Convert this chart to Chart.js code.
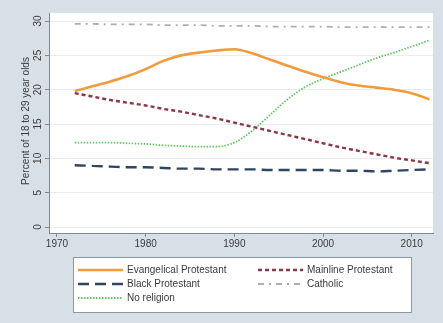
<!DOCTYPE html>
<html>
<head>
<meta charset="utf-8">
<script src="https://cdn.jsdelivr.net/npm/chart.js@4.4.1/dist/chart.umd.min.js"></script>
<style>
  html, body { margin: 0; padding: 0; background: #d7dfe7; }
  #wrap { width: 443px; height: 323px; }
</style>
</head>
<body>
<div id="wrap"><canvas id="chart" width="443" height="323"></canvas></div>
<script>
// data
const years = [1972, 1974, 1976, 1978, 1980, 1982, 1984, 1986, 1988, 1990, 1992,
               1994, 1996, 1998, 2000, 2002, 2004, 2006, 2008, 2010, 2012];
const evangelical = [19.8, 20.5, 21.2, 22.0, 23.0, 24.2, 25.0, 25.4, 25.7, 25.9, 25.3,
                     24.4, 23.5, 22.6, 21.8, 21.1, 20.6, 20.3, 20.0, 19.5, 18.6];
const mainline = [19.5, 19.0, 18.5, 18.1, 17.7, 17.2, 16.8, 16.3, 15.8, 15.2, 14.6,
                  14.0, 13.4, 12.8, 12.2, 11.6, 11.1, 10.6, 10.1, 9.7, 9.3];
const blackProt = [9.0, 8.9, 8.8, 8.7, 8.7, 8.6, 8.5, 8.5, 8.4, 8.4, 8.4,
                   8.3, 8.3, 8.3, 8.3, 8.2, 8.2, 8.1, 8.2, 8.3, 8.4];
const catholic = [29.6, 29.6, 29.5, 29.5, 29.5, 29.4, 29.4, 29.4, 29.3, 29.3, 29.3,
                  29.2, 29.2, 29.2, 29.2, 29.1, 29.1, 29.1, 29.1, 29.1, 29.1];
const noReligion = [12.3, 12.3, 12.3, 12.2, 12.1, 11.9, 11.8, 11.7, 11.7, 12.3, 14.0,
                    16.3, 18.6, 20.4, 21.6, 22.6, 23.6, 24.6, 25.4, 26.3, 27.2];
const xTicks = [1970, 1980, 1990, 2000, 2010];
const yTicks = [0, 5, 10, 15, 20, 25, 30];
const yTitle = 'Percent of 18 to 29 year olds';

const pts = vals => years.map((y, i) => ({ x: y, y: vals[i] }));
const FONT = '"Liberation Sans", Arial, sans-serif';
const TXT = '#3b3b3b';

// legend order: two columns like the stata legend
const legendOrder = [
  { ds: 0, col: 0, row: 0 }, { ds: 1, col: 1, row: 0 },
  { ds: 2, col: 0, row: 1 }, { ds: 3, col: 1, row: 1 },
  { ds: 4, col: 0, row: 2 }
];

const decor = {
  id: 'decor',
  beforeDraw(chart) {
    const { ctx, chartArea: a } = chart;
    ctx.save();
    ctx.fillStyle = '#d7dfe7';
    ctx.fillRect(0, 0, chart.width, chart.height);
    ctx.fillStyle = '#ffffff';
    ctx.fillRect(a.left, a.top, a.right - a.left, a.bottom - a.top);
    ctx.restore();
  },
  afterDraw(chart) {
    const { ctx, chartArea: a } = chart;
    const ys = chart.scales.y;
    ctx.save();
    ctx.fillStyle = TXT;
    ctx.font = '10px ' + FONT;
    ctx.textAlign = 'center';
    ctx.textBaseline = 'middle';
    // rotated y tick labels
    yTicks.forEach(v => {
      ctx.save();
      ctx.translate(38, ys.getPixelForValue(v));
      ctx.rotate(-Math.PI / 2);
      ctx.fillText(String(v), 0, 0);
      ctx.restore();
    });
    // y title
    ctx.save();
    ctx.translate(26, (a.top + a.bottom) / 2 - 2);
    ctx.rotate(-Math.PI / 2);
    ctx.fillText(yTitle, 0, 0);
    ctx.restore();

    // legend box
    const bx = 73.5, by = 257.5, bw = 338, bh = 55;
    ctx.fillStyle = '#ffffff';
    ctx.fillRect(bx, by, bw, bh);
    ctx.strokeStyle = '#8e98a3';
    ctx.lineWidth = 1;
    ctx.strokeRect(bx, by, bw, bh);
    const colX = [78, 258];
    const rowY = [270, 284, 298];
    legendOrder.forEach(it => {
      const ds = chart.data.datasets[it.ds];
      const x0 = colX[it.col], y0 = rowY[it.row];
      ctx.save();
      ctx.strokeStyle = ds.borderColor;
      ctx.lineWidth = ds.borderWidth;
      ctx.setLineDash(ds.borderDash || []);
      ctx.beginPath();
      ctx.moveTo(x0, y0);
      ctx.lineTo(x0 + 45, y0);
      ctx.stroke();
      ctx.restore();
      ctx.fillStyle = TXT;
      ctx.textAlign = 'left';
      ctx.fillText(ds.label, x0 + 49, y0);
    });
    ctx.restore();
  }
};

const line = (label, vals, color, width, dash) => ({
  label, data: pts(vals), borderColor: color, backgroundColor: color,
  borderWidth: width, borderDash: dash, pointRadius: 0, tension: 0.4,
  cubicInterpolationMode: 'monotone', fill: false
});

new Chart(document.getElementById('chart'), {
  type: 'line',
  data: {
    datasets: [
      line('Evangelical Protestant', evangelical, '#f39a3c', 2.6, []),
      line('Mainline Protestant', mainline, '#8a3846', 2.4, [4, 3]),
      line('Black Protestant', blackProt, '#2f4560', 2.4, [11, 6]),
      line('Catholic', catholic, '#a9aeb9', 1.8, [6, 5, 2, 5]),
      line('No religion', noReligion, '#5fc95f', 1.8, [1.5, 1.5])
    ]
  },
  options: {
    responsive: false,
    animation: false,
    layout: { padding: { left: 0, top: 13, right: 10, bottom: 0 } },
    plugins: { legend: { display: false }, tooltip: { enabled: false } },
    scales: {
      x: {
        type: 'linear', min: 1969.1, max: 2012.4,
        afterBuildTicks: s => { s.ticks = xTicks.map(v => ({ value: v })); },
        afterFit: s => { s.height = 90; },
        grid: { display: true, drawOnChartArea: false, drawTicks: true, tickLength: 4, color: '#7c8a99' },
        border: { color: '#7c8a99', width: 1 },
        ticks: { color: TXT, font: { family: FONT, size: 10 }, padding: 1, maxRotation: 0, callback: v => String(v) }
      },
      y: {
        min: -0.87, max: 31.17,
        afterBuildTicks: s => { s.ticks = yTicks.map(v => ({ value: v })); },
        afterFit: s => { s.width = 49; },
        grid: { color: '#e9edf1', tickColor: '#7c8a99', tickLength: 4, lineWidth: 1 },
        border: { color: '#7c8a99', width: 1 },
        ticks: { color: 'rgba(0,0,0,0)', font: { family: FONT, size: 10 } }
      }
    }
  },
  plugins: [decor]
});
</script>
</body>
</html>
